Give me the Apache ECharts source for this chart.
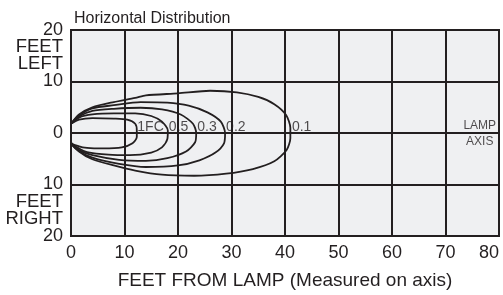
<!DOCTYPE html>
<html>
<head>
<meta charset="utf-8">
<script src="https://cdn.jsdelivr.net/npm/echarts@6/dist/echarts.min.js"></script>
<style>
  html, body { margin: 0; padding: 0; background: #fff; }
  #chart { width: 503px; height: 295px; }
</style>
</head>
<body>
<div id="chart"></div>
<script>
// contour outlines, [feet from lamp, feet left(+)/right(-)]
const fc1 = [[0,1.8],[1.5,2.6],[4,2.9],[8,2.8],[10.5,2.6],[12,1.8],[12.3,0.5],[12.3,-0.8],[11.5,-2],[9.5,-2.8],[6,-3.0],[3,-2.9],[1.5,-2.6],[0,-1.8],[0,1.8]];
const fc05 = [[0,1.8],[1.5,3.0],[4,3.6],[8,3.8],[12,3.8],[15,3.3],[17,2.2],[18.1,0.5],[18,-1.2],[17,-2.8],[15,-3.8],[11,-4.3],[7,-4.2],[3,-3.7],[1.5,-3.0],[0,-1.8],[0,1.8]];
const fc03 = [[0,1.8],[1.5,3.2],[4,4.3],[8,4.7],[13,4.9],[17,4.6],[20.5,3.6],[22.8,1.8],[23.4,0],[23.2,-1.8],[21.5,-3.6],[18,-4.9],[14,-5.4],[9,-5.2],[4,-4.3],[1.5,-3.3],[0,-1.8],[0,1.8]];
const fc02 = [[0,1.8],[1.5,3.4],[4,4.8],[8,5.4],[13,6.0],[18,5.9],[22,5.3],[25.5,4.0],[28,2.2],[28.8,0],[28.6,-2],[27,-3.8],[24,-5.3],[20,-6.3],[14,-6.6],[9,-6.0],[4,-4.8],[1.5,-3.5],[0,-1.8],[0,1.8]];
const fc01 = [[0,1.8],[1.5,3.6],[4,5.0],[8,6.0],[12,6.8],[14,7.3],[20,7.7],[26,8.2],[31,7.9],[35,7.0],[38,5.6],[40.2,3.5],[41,1],[41,-1],[40.3,-3.3],[38,-5.5],[34,-7.0],[29,-7.9],[23,-8.3],[17,-8.1],[12,-7.3],[8,-6.3],[4,-5.1],[1.5,-3.6],[0,-1.8],[0,1.8]];

const levels = ['1FC', '0.5', '0.3', '0.2', '0.1'];
const levelLabelX = [12.3, 18.2, 23.5, 28.9, 41.2];
const lampAxisX = 76.5;
const sideLabels = { '15': 'FEET\nLEFT', '-15': 'FEET\nRIGHT' };

const ink = '#231f20';
const font = 'Liberation Sans, Arial, sans-serif';

const chart = echarts.init(document.getElementById('chart'));

const contourSeries = [fc1, fc05, fc03, fc02, fc01].map((pts) => ({
  type: 'line',
  data: pts,
  showSymbol: false,
  smooth: 0.25,
  silent: true,
  lineStyle: { color: ink, width: 1.8 },
  z: 3,
}));

chart.setOption({
  animation: false,
  textStyle: { fontFamily: font, color: ink },
  title: {
    text: 'Horizontal Distribution',
    left: 69,
    top: 6,
    textStyle: { fontSize: 16, fontWeight: 'normal', color: ink, fontFamily: font },
  },
  grid: {
    left: 71,
    right: 4,
    top: 30,
    bottom: 54,
    show: true,
    backgroundColor: '#eff0f2',
    borderColor: ink,
    borderWidth: 2,
    z: 0,
  },
  xAxis: {
    type: 'value',
    min: 0,
    max: 80,
    interval: 10,
    name: 'FEET FROM LAMP (Measured on axis)',
    nameLocation: 'middle',
    nameGap: 35,
    nameTextStyle: { fontSize: 19, color: ink, fontFamily: font },
    axisLine: { lineStyle: { color: ink, width: 2 } },
    axisTick: { show: false },
    axisLabel: { fontSize: 18, color: ink, margin: 8, alignMaxLabel: 'right' },
    splitLine: { lineStyle: { color: ink, width: 2 } },
  },
  yAxis: [
    {
      type: 'value',
      min: -20,
      max: 20,
      interval: 10,
      axisLine: { show: true, lineStyle: { color: ink, width: 2 } },
      axisTick: { show: false },
      axisLabel: { fontSize: 18, color: ink, margin: 8, formatter: (v) => String(Math.abs(v)) },
      splitLine: { lineStyle: { color: ink, width: 2 } },
    },
    {
      type: 'value',
      min: -20,
      max: 20,
      interval: 5,
      position: 'left',
      axisLine: { show: false },
      axisTick: { show: false },
      splitLine: { show: false },
      axisLabel: {
        fontSize: 18.5,
        lineHeight: 17,
        color: ink,
        margin: 8,
        formatter: (v) => sideLabels[String(v)] || '',
      },
    },
  ],
  series: [
    ...contourSeries,
    {
      type: 'scatter',
      symbolSize: 1,
      itemStyle: { color: 'transparent' },
      silent: true,
      z: 4,
      data: levels.map((t, i) => [levelLabelX[i], 0, t]),
      label: {
        show: true,
        position: [0, 0],
        align: 'left',
        verticalAlign: 'bottom',
        offset: [1, 2],
        fontSize: 14,
        color: ink,
        fontFamily: font,
        formatter: (p) => p.value[2],
      },
    },
    {
      type: 'scatter',
      symbolSize: 1,
      itemStyle: { color: 'transparent' },
      silent: true,
      z: 4,
      data: [[lampAxisX, 0]],
      label: {
        show: true,
        position: [0, 0],
        align: 'center',
        verticalAlign: 'middle',
        offset: [0, 1.5],
        fontSize: 12,
        lineHeight: 16,
        color: ink,
        fontFamily: font,
        formatter: 'LAMP\nAXIS',
      },
    },
  ],
});
</script>
</body>
</html>
